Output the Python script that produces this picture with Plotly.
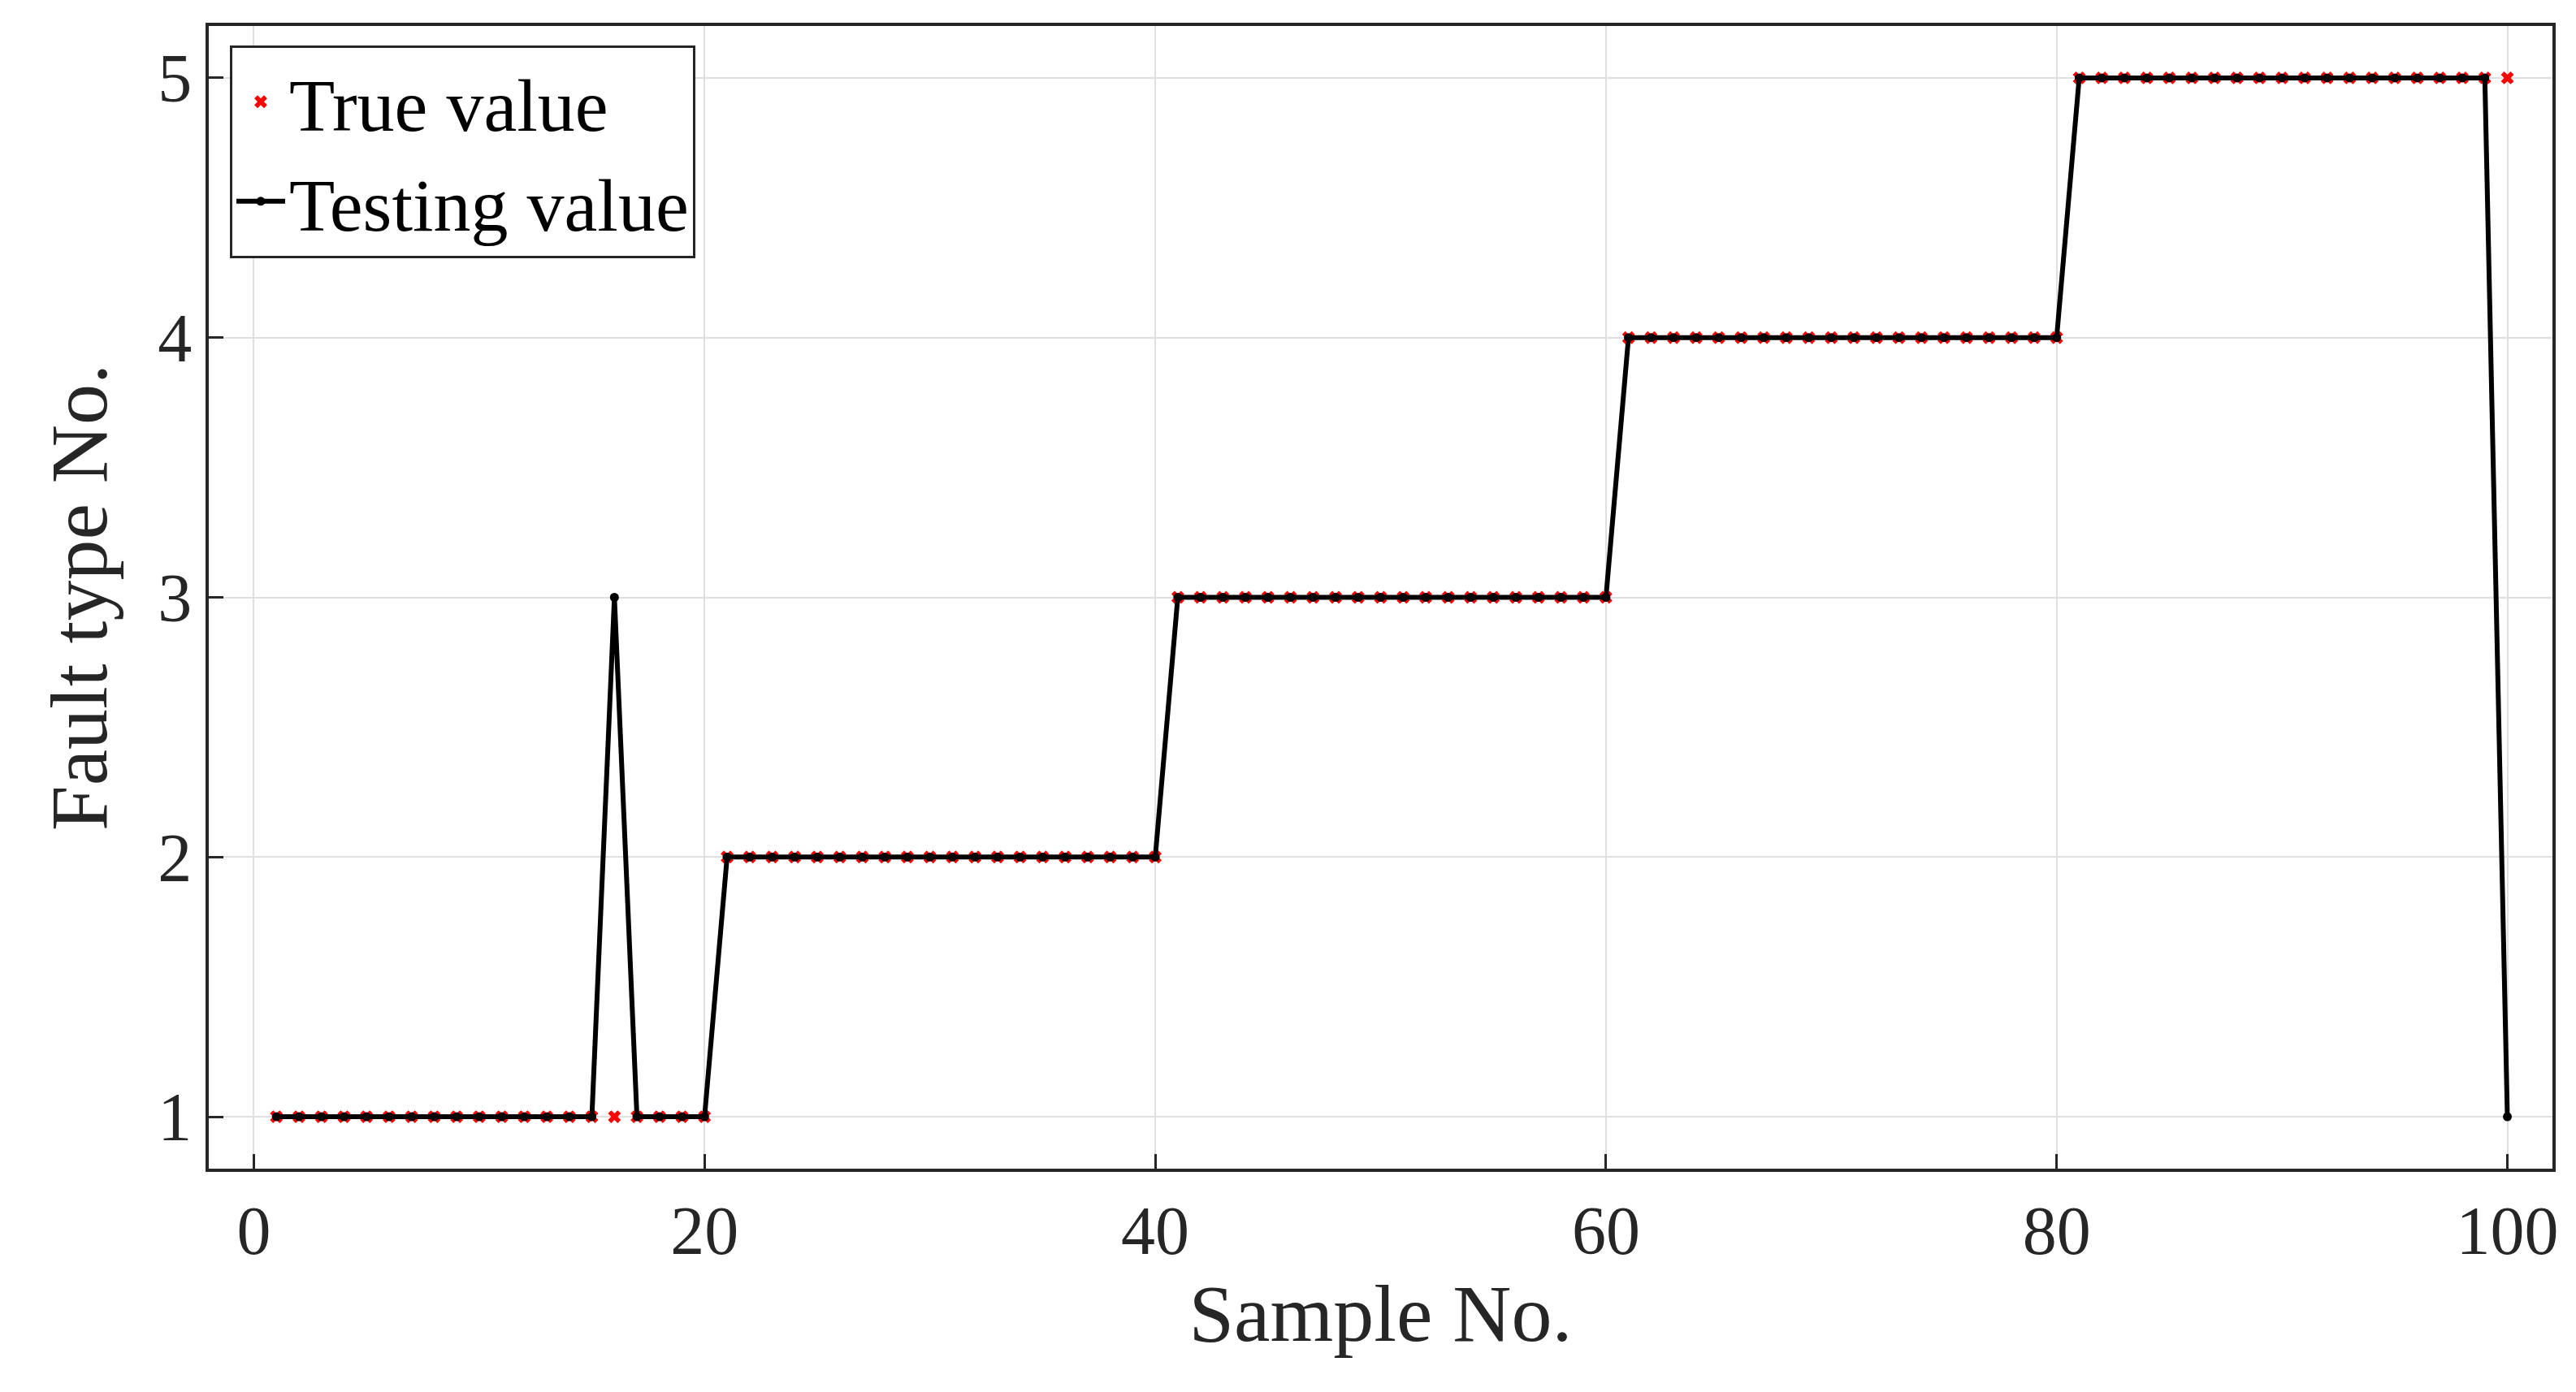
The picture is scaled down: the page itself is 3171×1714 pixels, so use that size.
import plotly.graph_objects as go

samples = list(range(1, 101))
true_vals = [1]*20 + [2]*20 + [3]*20 + [4]*20 + [5]*20
test_vals = [1]*15 + [3] + [1]*4 + [2]*20 + [3]*20 + [4]*20 + [5]*19 + [1]

FONT = "Liberation Serif"
fig = go.Figure()
fig.add_trace(go.Scatter(x=samples, y=true_vals, mode="markers", name="True value",
                         marker=dict(symbol="x", color="red", size=14, line=dict(width=0))))
fig.add_trace(go.Scatter(x=samples, y=test_vals, mode="lines+markers", name="Testing value",
                         line=dict(color="black", width=6), marker=dict(color="black", size=11)))

axis_common = dict(showline=True, linecolor="#262626", linewidth=4, mirror=True,
                   showgrid=True, gridcolor="#e0e0e0", gridwidth=2, zeroline=False,
                   ticks="inside", ticklen=18, tickwidth=3, tickcolor="#262626",
                   tickfont=dict(family=FONT, size=84, color="#262626"))
fig.update_xaxes(range=[-2, 102], tickvals=[0, 20, 40, 60, 80, 100],
                 title=dict(text="Sample No.", font=dict(family=FONT, size=100, color="#262626"), standoff=10),
                 **axis_common)
fig.update_yaxes(range=[0.8, 5.2], tickvals=[1, 2, 3, 4, 5],
                 title=dict(text="Fault type No.", font=dict(family=FONT, size=100, color="#262626"), standoff=30),
                 **axis_common)
fig.update_layout(width=3171, height=1714, plot_bgcolor="white", paper_bgcolor="white",
                  margin=dict(l=249, r=37, t=24, b=283),
                  legend=dict(x=0.009, y=0.983, xanchor="left", yanchor="top",
                              bgcolor="white", bordercolor="#262626", borderwidth=3,
                              font=dict(family=FONT, size=92, color="black"),
                              itemwidth=60, tracegroupgap=0),
                  showlegend=True)
fig.write_html("out.html")
